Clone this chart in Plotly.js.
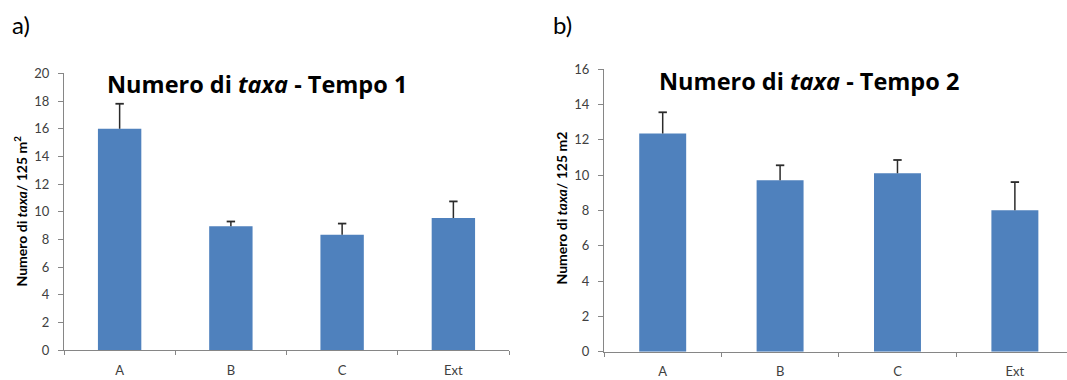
<!DOCTYPE html>
<html>
<head>
<meta charset="utf-8">
<script src="https://cdn.plot.ly/plotly-3.0.1.min.js"></script>
<style>
  html, body { margin: 0; padding: 0; background: #ffffff; }
  #chart { width: 1067px; height: 380px; }
</style>
</head>
<body>
<div id="chart"></div>
<script>
// Sites sampled
const categories = ['A', 'B', 'C', 'Ext'];

// Mean number of taxa per 125 m2 and upper error (time 1)
const taxaTempo1 = [16.0, 8.95, 8.35, 9.55];
const errTempo1 = [1.8, 0.35, 0.8, 1.2];

// Mean number of taxa per 125 m2 and upper error (time 2)
const taxaTempo2 = [12.35, 9.7, 10.1, 8.0];
const errTempo2 = [1.2, 0.85, 0.75, 1.6];

const zeros = categories.map(() => 0);

const W = 1067, H = 380;
const px = v => v / W;
const py = v => 1 - v / H;

const barColor = '#4F81BD';
const axisGray = '#868686';
const whiskerColor = '#2b2b2b';
const tickFont = { family: 'Lato, "Open Sans", sans-serif', size: 13, color: '#404040' };

// Bars carry the upward whisker (no caps); the top cap is a short
// horizontal marker placed at mean + error.
function panelTraces(values, errors, xa, ya, barWidth) {
  return [
    {
      type: 'bar', x: categories, y: values, xaxis: xa, yaxis: ya,
      marker: { color: barColor }, width: barWidth, hoverinfo: 'x+y',
      error_y: {
        type: 'data', symmetric: false, array: errors, arrayminus: zeros,
        color: whiskerColor, thickness: 1.5, width: 0, visible: true
      }
    },
    {
      type: 'scatter', mode: 'markers', x: categories,
      y: values.map((v, i) => v + errors[i]), xaxis: xa, yaxis: ya,
      marker: { symbol: 'line-ew', size: 6, line: { color: whiskerColor, width: 1.8 } },
      hoverinfo: 'skip', cliponaxis: false
    }
  ];
}

const traces = [
  ...panelTraces(taxaTempo1, errTempo1, 'x', 'y', 0.39),
  ...panelTraces(taxaTempo2, errTempo2, 'x2', 'y2', 0.40)
];

function yAxis(domain, range, anchor) {
  return {
    domain: domain, range: range, anchor: anchor, dtick: 2, tick0: 0,
    showgrid: false, zeroline: false, showline: true, linecolor: axisGray, linewidth: 1,
    ticks: 'outside', ticklen: 5, tickcolor: axisGray, tickwidth: 1,
    tickfont: tickFont, ticklabelstandoff: 6, fixedrange: true
  };
}
function xAxis(domain, range, anchor) {
  return {
    domain: domain, range: range, anchor: anchor, type: 'category',
    showgrid: false, zeroline: false, showline: true, linecolor: axisGray, linewidth: 1,
    ticks: 'outside', tickson: 'boundaries', ticklen: 4, tickcolor: axisGray, tickwidth: 1,
    tickfont: tickFont, ticklabelstandoff: 8, fixedrange: true
  };
}

const titleFont = { family: '"Open Sans", Lato, sans-serif', size: 23.5, color: '#000000' };
const yTitleFont = { family: 'Lato, "Open Sans", sans-serif', size: 14, color: '#000000' };
const panelFont = { family: 'Lato, "Open Sans", sans-serif', size: 24, color: '#000000' };

const layout = {
  width: W, height: H,
  margin: { l: 0, r: 0, t: 0, b: 0 },
  paper_bgcolor: '#ffffff', plot_bgcolor: '#ffffff',
  showlegend: false,
  xaxis: xAxis([px(64), px(509)], [-0.5, 3.5], 'y'),
  yaxis: yAxis([1 - 350.3 / H, 1 - 73.3 / H], [0, 20], 'x'),
  xaxis2: xAxis([px(604), 1], [-0.5, 3.444], 'y2'),
  yaxis2: yAxis([1 - 351.7 / H, 1 - 69 / H], [0, 16], 'x2'),
  annotations: [
    { xref: 'paper', yref: 'paper', x: px(10), y: py(25), xanchor: 'left', yanchor: 'middle',
      text: 'a)', showarrow: false, font: panelFont },
    { xref: 'paper', yref: 'paper', x: px(551), y: py(25), xanchor: 'left', yanchor: 'middle',
      text: 'b)', showarrow: false, font: panelFont },
    { xref: 'paper', yref: 'paper', x: px(105), y: py(84), xanchor: 'left', yanchor: 'middle',
      text: '<b>Numero di <i>taxa</i> - Tempo 1</b>', showarrow: false, font: titleFont },
    { xref: 'paper', yref: 'paper', x: px(657), y: py(81), xanchor: 'left', yanchor: 'middle',
      text: '<b>Numero di <i>taxa</i> - Tempo 2</b>', showarrow: false, font: titleFont },
    { xref: 'paper', yref: 'paper', x: px(21), y: py(211.5), xanchor: 'center', yanchor: 'middle',
      textangle: -90, text: '<b>Numero di <i>taxa</i>/ 125 m<sup>2</sup></b>', showarrow: false, font: yTitleFont },
    { xref: 'paper', yref: 'paper', x: px(561), y: py(208.5), xanchor: 'center', yanchor: 'middle',
      textangle: -90, text: '<b>Numero di <i>taxa</i>/ 125 m2</b>', showarrow: false, font: yTitleFont }
  ]
};

Plotly.newPlot('chart', traces, layout, { displayModeBar: false, staticPlot: true });
</script>
</body>
</html>
